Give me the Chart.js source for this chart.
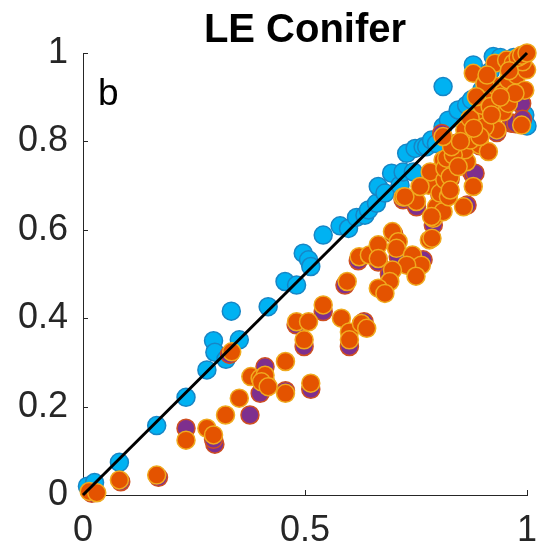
<!DOCTYPE html>
<html>
<head>
<meta charset="utf-8">
<script src="https://cdn.jsdelivr.net/npm/chart.js@4.4.1/dist/chart.umd.min.js"></script>
<style>
  html, body { margin: 0; padding: 0; background: #fff; }
</style>
</head>
<body>
<canvas id="chart-canvas" width="538" height="552"></canvas>
<script>
'use strict';

// tick labels
const xTicks = [0, 0.5, 1];
const yTicks = [0, 0.2, 0.4, 0.6, 0.8, 1];

// 1:1 reference line
const lineX = [0, 1];
const lineY = [0, 1];

// blue series
const blueX = [0.010, 0.026, 0.082, 0.166, 0.232, 0.279, 0.294, 0.297, 0.322, 0.334, 0.352, 0.417,
    0.455, 0.481, 0.496, 0.508, 0.513, 0.541, 0.579, 0.598, 0.616, 0.635, 0.643, 0.661, 0.665, 0.680,
    0.695, 0.714, 0.721, 0.744, 0.729, 0.748, 0.766, 0.774, 0.785, 0.796, 0.811, 0.823, 0.845, 0.864,
    0.875, 0.898, 0.811, 0.879, 0.917, 0.924, 0.995, 1.000, 0.940, 0.970, 0.960];
const blueY = [0.020, 0.028, 0.074, 0.157, 0.221, 0.283, 0.349, 0.323, 0.307, 0.416, 0.351, 0.426,
    0.483, 0.475, 0.547, 0.532, 0.517, 0.588, 0.609, 0.603, 0.628, 0.633, 0.645, 0.660, 0.698, 0.683,
    0.728, 0.701, 0.731, 0.731, 0.773, 0.784, 0.788, 0.788, 0.803, 0.795, 0.833, 0.848, 0.871, 0.882,
    0.894, 0.916, 0.924, 0.973, 0.958, 0.992, 0.860, 0.835, 0.990, 0.990, 0.970];

// purple series
const purpleX = [0.020, 0.085, 0.170, 0.232, 0.297, 0.294, 0.330, 0.376, 0.410, 0.399, 0.410, 0.456,
    0.480, 0.498, 0.513, 0.541, 0.590, 0.600, 0.620, 0.633, 0.665, 0.690, 0.700, 0.710, 0.721, 0.751,
    0.766, 0.789, 0.804, 0.808, 0.827, 0.841, 0.865, 0.875, 0.879, 0.883, 0.894, 0.932, 0.958, 0.965,
    0.969, 0.975, 0.984, 0.988, 0.990, 0.990];
const purpleY = [0.004, 0.030, 0.040, 0.151, 0.115, 0.126, 0.318, 0.181, 0.290, 0.230, 0.260, 0.236,
    0.385, 0.336, 0.239, 0.415, 0.475, 0.336, 0.530, 0.392, 0.527, 0.500, 0.590, 0.539, 0.668, 0.652,
    0.532, 0.611, 0.678, 0.818, 0.715, 0.796, 0.656, 0.731, 0.724, 0.728, 0.790, 0.820, 0.935, 0.841,
    0.841, 0.840, 0.886, 0.886, 0.850, 0.990];

// orange series
const orangeX = [0.014, 0.031, 0.082, 0.166, 0.232, 0.279, 0.294, 0.321, 0.335, 0.352, 0.378, 0.399,
    0.410, 0.402, 0.417, 0.456, 0.456, 0.498, 0.481, 0.508, 0.513, 0.541, 0.582, 0.600, 0.600, 0.627,
    0.639, 0.595, 0.622, 0.645, 0.665, 0.665, 0.697, 0.710, 0.706, 0.742, 0.762, 0.729, 0.750, 0.697,
    0.691, 0.665, 0.680, 0.780, 0.786, 0.721, 0.751, 0.778, 0.782, 0.796, 0.789, 0.811, 0.804, 0.815,
    0.811, 0.725, 0.785, 0.759, 0.815, 0.819, 0.827, 0.823, 0.827, 0.857, 0.879, 0.864, 0.860, 0.894,
    0.913, 0.872, 0.834, 0.830, 0.811, 0.860, 0.890, 0.872, 0.932, 0.905, 0.898, 0.924, 0.946, 0.958,
    0.988, 0.932, 0.946, 0.958, 0.977, 0.928, 0.954, 0.879, 0.905, 0.886, 0.969, 0.999, 0.995, 0.917,
    0.973, 0.894, 0.845, 0.990, 0.980, 0.988, 1.000, 0.850, 0.880, 0.920, 0.940, 0.960, 0.910];
const orangeY = [0.008, 0.005, 0.034, 0.045, 0.124, 0.151, 0.136, 0.181, 0.324, 0.219, 0.268, 0.264,
    0.271, 0.256, 0.245, 0.302, 0.230, 0.351, 0.392, 0.392, 0.253, 0.430, 0.400, 0.369, 0.351, 0.388,
    0.377, 0.483, 0.539, 0.543, 0.566, 0.535, 0.596, 0.573, 0.558, 0.543, 0.520, 0.520, 0.495, 0.509,
    0.483, 0.468, 0.456, 0.577, 0.581, 0.674, 0.664, 0.701, 0.731, 0.652, 0.626, 0.641, 0.683, 0.713,
    0.758, 0.675, 0.630, 0.698, 0.739, 0.762, 0.720, 0.675, 0.690, 0.652, 0.698, 0.754, 0.781, 0.792,
    0.777, 0.803, 0.769, 0.788, 0.811, 0.826, 0.852, 0.852, 0.826, 0.833, 0.882, 0.894, 0.867, 0.886,
    0.837, 0.924, 0.909, 0.939, 0.950, 0.977, 0.984, 0.954, 0.931, 0.901, 0.977, 0.962, 0.916, 0.879,
    0.909, 0.811, 0.743, 0.980, 0.990, 0.995, 1.000, 0.800, 0.830, 0.860, 0.900, 0.960, 0.950];

const family = "'Liberation Sans', Arial, Helvetica, sans-serif";
const axisColor = '#262626';

function toPoints(xs, ys) {
    return xs.map((x, i) => ({ x: x, y: ys[i] }));
}

// MATLAB style ticks, pointing into the plot
const inwardTicks = {
    id: 'inwardTicks',
    beforeDatasetsDraw(chart) {
        const { ctx, chartArea, scales } = chart;
        const len = 5;
        ctx.save();
        ctx.strokeStyle = axisColor;
        ctx.lineWidth = 1;
        ctx.beginPath();
        xTicks.forEach((v) => {
            const px = Math.round(scales.x.getPixelForValue(v)) + 0.5;
            ctx.moveTo(px, chartArea.bottom);
            ctx.lineTo(px, chartArea.bottom - len);
        });
        yTicks.forEach((v) => {
            const py = Math.round(scales.y.getPixelForValue(v)) + 0.5;
            ctx.moveTo(chartArea.left, py);
            ctx.lineTo(chartArea.left + len, py);
        });
        ctx.stroke();
        ctx.restore();
    }
};

// panel letter
const panelLabel = {
    id: 'panelLabel',
    afterDraw(chart) {
        const { ctx, scales } = chart;
        ctx.save();
        ctx.fillStyle = '#000';
        ctx.font = '37px ' + family;
        ctx.textAlign = 'left';
        ctx.textBaseline = 'alphabetic';
        ctx.fillText('b', scales.x.getPixelForValue(0.034), scales.y.getPixelForValue(0.882));
        ctx.restore();
    }
};

const ctx = document.getElementById('chart-canvas').getContext('2d');
const chart = new Chart(ctx, {
    type: 'scatter',
    data: {
        datasets: [{
            type: 'line',
            data: toPoints(lineX, lineY),
            borderColor: '#000',
            borderWidth: 3,
            pointRadius: 0,
            fill: false,
            order: 0,
            clip: false
        }, {
            data: toPoints(orangeX, orangeY),
            backgroundColor: '#e45300',
            borderColor: '#f0aa1e',
            borderWidth: 1.5,
            pointRadius: 9,
            order: 1,
            clip: false
        }, {
            data: toPoints(purpleX, purpleY),
            backgroundColor: '#7e2f8e',
            borderColor: '#cf4f22',
            borderWidth: 1.5,
            pointRadius: 9,
            order: 2,
            clip: false
        }, {
            data: toPoints(blueX, blueY),
            backgroundColor: '#00b2f2',
            borderColor: '#1686c6',
            borderWidth: 1.5,
            pointRadius: 9,
            order: 3,
            clip: false
        }]
    },
    options: {
        responsive: false,
        animation: false,
        layout: { padding: { left: 0, right: 11, top: 0, bottom: 0 } },
        plugins: {
            legend: { display: false },
            tooltip: { enabled: false },
            title: {
                display: true,
                text: 'LE Conifer',
                fullSize: false,
                color: '#000',
                font: { family: family, size: 40, weight: 'bold', lineHeight: 1 },
                padding: { top: 11, bottom: 2 }
            }
        },
        scales: {
            x: {
                type: 'linear',
                min: 0,
                max: 1,
                afterBuildTicks: (s) => { s.ticks = xTicks.map((v) => ({ value: v })); },
                afterFit: (s) => {
                    s.height = 57;
                    s.paddingLeft = 0;
                    s.paddingRight = 0;
                },
                grid: { drawOnChartArea: false, drawTicks: false },
                border: { color: axisColor, width: 1 },
                ticks: {
                    color: axisColor,
                    font: { family: family, size: 36 },
                    padding: 14,
                    maxRotation: 0,
                    autoSkip: false,
                    callback: (v) => String(v)
                }
            },
            y: {
                type: 'linear',
                min: 0,
                max: 1,
                afterBuildTicks: (s) => { s.ticks = yTicks.map((v) => ({ value: v })); },
                afterFit: (s) => {
                    s.width = 83;
                    s.paddingTop = 0;
                    s.paddingBottom = 0;
                },
                grid: { drawOnChartArea: false, drawTicks: false },
                border: { color: axisColor, width: 1 },
                ticks: {
                    color: axisColor,
                    font: { family: family, size: 36 },
                    padding: 15,
                    autoSkip: false,
                    callback: (v) => String(v)
                }
            }
        }
    },
    plugins: [inwardTicks, panelLabel]
});
</script>
</body>
</html>
